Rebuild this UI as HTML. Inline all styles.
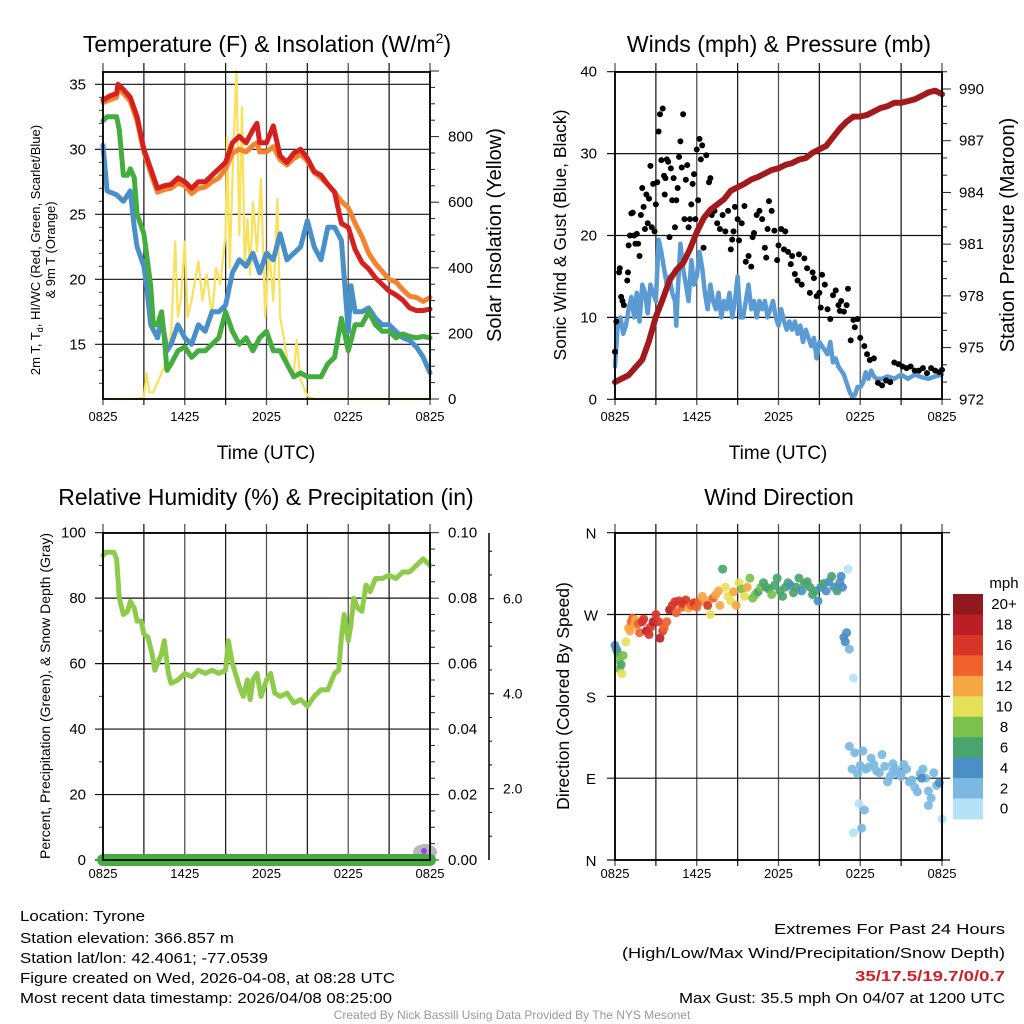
<!DOCTYPE html>
<html><head><meta charset="utf-8"><style>
html,body{margin:0;padding:0;background:#fff}
svg{display:block;font-family:"Liberation Sans",sans-serif}
</style></head><body>
<svg id="fig" width="1024" height="1024" viewBox="0 0 1024 1024" xmlns="http://www.w3.org/2000/svg"></svg>
<script>
// ---------- DATA ----------
const timeTicks = ["0825","1425","2025","0225","0825"];
const tHours = [0,0.5,1,1.1,1.5,2,2.5,3,3.5,4,4.5,5,5.5,6,6.5,7,7.5,8,8.5,9,9.5,10,10.5,11,11.3,11.5,12,12.5,13,13.5,14,14.5,15,15.5,16,16.5,17,17.5,18,18.5,19,19.5,20,20.5,21,21.5,22,22.5,23,23.5,24];
const temp2m = [33.8,34.1,34.3,35,34.6,34,32.5,30,28.5,27,27.2,27.3,27.8,27.5,27,27.5,27.5,28,28.5,29,30.5,31,30.5,31.5,32,30.5,30.5,31.8,29.5,29,29.7,30,29.3,28.3,28,27.3,26.7,24.3,24,22.3,21.3,20.8,20.1,19.6,19.1,18.8,18.4,17.8,17.6,17.6,17.7];
const temp9m = [33.6,33.8,34,34.7,34.3,33.7,32.2,29.8,28.2,26.7,26.9,27,27.4,27.2,26.6,27,27.1,27.5,27.8,28.5,29.7,30,29.8,30.3,30.5,29.8,29.8,30.2,29.2,28.8,29.3,29.6,29.1,28.2,27.8,27.3,26.7,26,25.5,24.3,23.3,22,21.2,20.6,20,19.8,19.2,18.7,18.6,18.3,18.6];
const dewHours = [0,0.3,1,1.2,1.5,1.8,2,2.3,2.5,3,3.5,3.7,4,4.3,4.5,4.7,5,5.5,6,6.5,7,7.5,8,8.5,9,9.5,10,10.5,11,11.5,12,12.5,13,13.5,14,14.5,15,15.5,16,16.5,17,17.5,18,18.5,19,19.5,20,20.5,21,21.5,22,22.5,23,23.5,24];
const dewpoint = [32.2,32.5,32.5,31.5,28,28,28.5,27.8,25,23.5,19.5,16.5,16.5,17.5,15.5,13,13.5,14.5,14.8,14,14.5,14.5,15,15.5,17.5,16,15,15.5,14.5,15.5,16,14.5,14.5,13.5,12.5,12.8,12.5,12.5,12.5,13.5,14,17,14.5,16.5,16.5,17.5,16.5,16,16,15.5,15.8,15.6,15.5,15.6,15.5];
const hiHours = [0,0.2,0.3,1,1.5,2,2.3,2.5,3,3.2,3.5,4,4.3,4.7,5,5.5,6,6.5,7,7.5,8,8.5,9,9.5,10,10.5,11,11.5,12,12.5,13,13.5,14,14.5,15,15.5,16,16.5,17,17.5,18,18.2,18.5,19,19.5,20,20.5,21,21.5,22,22.5,23,23.5,24];
const heatWind = [30.3,28,26.8,26.5,26,26.8,24,22.5,21,19.5,16.5,15.5,17,14.5,15,16.5,15.5,15,16.5,16,17.5,17.5,18,20.5,21.5,21,22,20.5,22,21.5,23.5,21.5,22,22.5,24.5,22.5,21.5,24,24,23,16,19.5,17.5,17.5,17.8,17,16.5,16.5,16,15.5,15.3,14.8,14,12.8];
const solHours = [0,2.5,3,3.2,3.4,3.7,4,4.5,5,5.3,5.5,5.7,6,6.2,6.5,7,7.3,7.6,8,8.3,8.6,9,9.1,9.3,9.6,9.8,10,10.2,10.4,10.6,10.8,11,11.3,11.6,11.9,12.2,12.5,12.8,13,13.3,13.6,14,14.2,14.5,14.8,15,15.5,24];
const solar = [0,0,5,80,20,20,50,100,200,480,250,300,480,250,300,420,300,380,250,400,350,500,800,400,800,1000,500,890,400,550,380,600,450,670,250,450,300,610,250,180,100,80,180,60,30,10,0,0];
const windHours = [0,0.2,0.4,0.6,0.8,1,1.2,1.4,1.6,1.8,2,2.2,2.4,2.6,2.8,3,3.2,3.4,3.6,3.8,4,4.2,4.4,4.5,4.6,4.8,5,5.2,5.4,5.6,5.8,6,6.2,6.4,6.6,6.8,7,7.2,7.4,7.6,7.8,8,8.2,8.4,8.6,8.8,9,9.2,9.4,9.6,9.8,10,10.2,10.4,10.6,10.8,11,11.2,11.4,11.6,11.8,12,12.2,12.4,12.6,12.8,13,13.2,13.4,13.6,13.8,14,14.2,14.4,14.6,14.8,15,15.2,15.4,15.6,15.8,16,16.2,16.4,16.6,16.8,17,17.2,17.4,17.6,17.8,18,18.2,18.4,18.6,18.8,19,19.2,19.6,20,20.5,21,21.5,22,22.5,23,23.5,24];
const windSpd = [4,9,10,8,9,11,12.5,10,13,9.5,14,13,10.5,14,13,12,19.5,18,16,14,15,13,12,9,13,19,16,14,12,17,14,15,18,16,13,11,14,12,11,13,10,12,11,13,10,12,15,10,10,12,14,11,12,10,12,11,12,10,11,12,10,9,11,9.5,8.5,9.5,8.5,9.5,8,9,7,8.5,7.5,6.5,7.5,5,7,6.5,6,5.5,7,4.5,5,4,3.5,3,2,1,0.3,0.5,1.5,1.5,2,3.3,2.5,3.5,2.8,2.5,2.5,2.8,2.5,3,2.5,3,2.7,2.5,2.8,3];
const gustHours = [0,0.1,0.3,0.35,0.45,0.55,0.65,0.9,0.95,1,1.1,1.2,1.3,1.4,1.5,1.6,1.7,1.8,1.9,2,2.1,2.2,2.3,2.4,2.5,2.6,2.7,2.8,2.9,3,3.1,3.2,3.3,3.4,3.5,3.6,3.65,3.7,3.8,3.9,4,4.1,4.2,4.3,4.4,4.5,4.6,4.7,4.8,4.9,5,5.1,5.2,5.3,5.4,5.5,5.6,5.7,5.8,5.9,6,6.1,6.2,6.3,6.4,6.5,6.7,6.9,7.0,7.1,7.3,7.5,7.7,7.9,8.1,8.3,8.5,8.6,8.7,8.8,9.0,9.1,9.3,9.5,9.6,9.8,10.0,10.1,10.2,10.4,10.6,10.8,11.0,11.1,11.2,11.3,11.5,11.7,11.9,12.0,12.2,12.4,12.5,12.7,12.9,13.0,13.2,13.4,13.5,13.7,13.9,14.1,14.3,14.5,14.6,14.8,15.0,15.1,15.2,15.4,15.6,15.8,16.0,16.2,16.4,16.5,16.6,16.8,17.0,17.1,17.3,17.5,17.6,17.8,18.0,18.3,18.5,18.7,19.0,19.3,19.6,19.9,20.2,20.5,20.8,21.1,21.4,21.7,22.0,22.3,22.6,22.9,23.2,23.5,23.8,24];
const gustSpd = [5.8,9.5,15.5,16,12.5,12,11.5,14.5,15.5,18.8,20,22.7,22.8,20,19,20.2,19,17.5,22.5,25.8,23.5,20.8,25,21.5,24.5,28.5,21,26.3,20.5,23.8,26.5,32.7,34.8,29.2,35.5,27.3,25,27,29.3,29,19.8,28.2,24.3,27,21,24.3,25.8,29.6,31.5,28.3,34.8,22,26.8,28.6,21,22,23.8,26.3,27.5,22,30.5,24.3,31.8,29.3,31,18.5,29.8,26.5,27,22.5,23,21.5,20.8,22.5,20.5,23,18.3,19.5,20.5,23.5,22,19.4,21.5,23.6,16.8,17.5,16.2,19.8,20.3,22.5,23,22,18.5,17.3,20.8,24.2,23,20.6,17,18.8,20.8,18.3,20.5,18,16.5,17.5,15.3,14.5,17.7,14,17.2,16,13,15.5,14.8,12.6,13,11.2,15.2,14,11,9.8,12.7,13.3,11.5,10.8,12,10.7,11.5,13.5,7.2,9.7,8.8,9.8,7.5,6.5,5.5,4.8,5,2,1.7,2.3,2.1,4.5,4.3,4,3.8,4,3.5,3.5,3.8,3.2,3.8,3.5,3.3,3.6,3.4,3.7,3.3,3.5,3.6,3.8,4.5];
const presHours = [0,1,2,2.5,3,3.5,4,4.5,5,5.5,6,6.5,7,7.5,8,8.5,9,9.5,10,10.5,11,11.5,12,12.5,13,13.5,14,14.5,15,15.5,16,16.5,17,17.5,18,18.5,19,19.5,20,20.5,21,21.5,22,22.5,23,23.5,24];
const pressure = [973.0,973.4,974.3,975.4,976.8,977.8,978.9,979.5,979.9,980.7,981.7,982.5,983.0,983.3,983.6,984.1,984.3,984.5,984.75,984.9,985.1,985.3,985.4,985.6,985.7,985.9,986.0,986.3,986.5,986.7,987.2,987.7,988.1,988.4,988.4,988.5,988.7,988.9,989.0,989.2,989.2,989.3,989.4,989.6,989.8,989.9,989.7];
const rhHours = [0,0.2,0.8,1,1.2,1.5,1.8,2,2.3,2.5,2.8,3,3.3,3.6,3.8,4,4.3,4.5,4.8,5,5.5,6,6.5,7,7.5,8,8.5,9,9.2,9.5,9.8,10,10.3,10.6,10.8,11,11.3,11.6,12,12.3,12.6,13,13.5,14,14.5,15,15.5,16,16.5,17,17.3,17.5,17.7,18,18.2,18.4,18.7,19,19.3,19.6,20,20.5,21,21.5,22,22.5,23,23.5,24];
const relHum = [93,94,94,92,80,75,76,79,77,73,73,69,68,63,58,60,63,67,57,54,55,57,56,58,57,58,57,58,67,60,56,53,50,55,49,55,57,50,55,57,51,50,51,48,49,47,50,52,52,57,58,68,75,67,72,80,77,76,84,82,86,86,87,86,88,88,90,92,90];
const precipHours = [0,24];
const precip = [0,0];
const dirHours = [0,0.1,0.2,0.3,0.35,0.45,0.5,0.6,0.8,1.0,1.1,1.2,1.3,1.4,1.5,1.7,1.8,2.0,2.1,2.3,2.5,2.6,2.8,3.0,3.2,3.3,3.5,3.6,3.8,4.0,4.2,4.4,4.5,4.7,4.9,5.0,5.2,5.4,5.6,5.8,6.0,6.2,6.4,6.6,6.8,7.0,7.2,7.4,7.6,7.7,7.9,8.1,8.3,8.5,8.7,8.9,9.1,9.3,9.5,9.7,9.9,10.1,10.3,10.5,10.7,10.9,11.1,11.3,11.5,11.7,11.9,12.1,12.3,12.5,12.7,12.9,13.1,13.3,13.5,13.7,13.9,14.1,14.3,14.5,14.7,14.9,15.1,15.3,15.5,15.7,15.9,16.1,16.3,16.5,16.6,16.7,16.8,16.9,17.0,17.2,17.5,17.1,17.2,17.4,17.6,17.8,18.0,18.2,18.4,18.6,18.8,19.0,19.2,19.4,19.6,19.8,20.0,20.2,20.4,20.6,20.8,21.0,21.2,21.4,21.6,21.8,22.0,22.2,22.4,22.6,22.8,23.0,23.2,23.4,23.6,23.8,24.0,17.5,17.9,18.1,18.3,20.4,21.0,22.5,23.0,23.8];
const dirDeg = [236,232,228,220,210,215,205,225,240,255,252,262,266,258,264,260,250,262,265,252,248,256,262,270,262,244,252,255,262,275,280,284,272,285,278,282,286,277,280,283,278,284,290,286,280,270,288,292,296,280,320,300,290,285,295,280,305,298,290,300,310,288,292,295,300,305,300,298,292,302,310,296,290,300,305,302,294,300,310,296,304,306,300,292,296,285,300,304,296,306,312,300,296,305,312,300,245,240,250,232,200,320,125,100,118,95,104,120,100,102,112,105,98,96,116,103,86,92,106,100,95,92,105,100,86,88,80,75,95,100,90,76,68,96,82,85,45,30,62,35,55,98,95,90,60];
const dirSpd = [5,4,6,9,8,7,10,9,10,13,12,14,14,12,13,14,15,16,17,18,16,17,18,17,16,19,16,14,15,18,17,16,14,16,15,17,16,13,14,16,15,14,13,12,16,11,14,13,12,12,7,11,10,10,12,12,11,9,10,12,9,9,8,7,8,7,7,6,9,7,6,7,6,6,6,5,6,7,6,5,6,7,6,7,6,5,5,6,4,5,6,5,6,5,4,5,4,4,4,3,1,1,3,2,2,3,3,2,2,3,2,3,2,3,2,2,3,2,2,3,3,2,2,3,2,2,3,2,2,3,2,2,3,2,2,4,1,1,1,2,2,3,2,4,3];
const speedBinLabels = ["20+","18","16","14","12","10","8","6","4","2","0"];
const speedBinColors = ["#8f191c","#b91f25","#d8352a","#ef622c","#f6a744","#e6df5a","#7bc14b","#49a56e","#4a8fc5","#7bb8e2","#b5e2f6"];

// ---------- HELPERS ----------
const NS="http://www.w3.org/2000/svg";
const svg=document.getElementById('fig');
function el(tag,attrs,parent,text){const e=document.createElementNS(NS,tag);for(const k in attrs)e.setAttribute(k,attrs[k]);if(text!==undefined)e.textContent=text;(parent||svg).appendChild(e);return e;}
function group(name){const g=el('g',{});


return g;}
function lin(d0,d1,r0,r1){return v=>r0+(v-d0)*(r1-r0)/(d1-d0);}
function linePath(xs,ys,xf,yf){const n=Math.min(xs.length,ys.length);let d='';for(let i=0;i<n;i++){d+=(i?'L':'M')+xf(xs[i]).toFixed(1)+','+yf(ys[i]).toFixed(1);}return d;}

function timeAxis(g,x0,x1,yTop,yBot,labelY){
  const xf=lin(0,24,x0,x1);
  for(let i=0;i<=8;i++){
    const x=xf(i*3);
    const ln=el('line',{x1:x,x2:x,y1:yTop-9,y2:yBot+6,stroke:(i%2?'#222':'#555'),'stroke-width':1.3},g);
    
    
  }
  timeTicks.forEach((t,i)=>{
    const tx=el('text',{x:xf(i*6),y:labelY,'font-size':13,'text-anchor':'middle'},g,t);
    
    
  });
  return xf;
}
function frame(g,x0,x1,y0,y1){const r=el('rect',{x:x0,y:y0,width:x1-x0,height:y1-y0,fill:'none',stroke:'#000','stroke-width':1.8},g);

}
function hgrid(g,y,x0,x1,lbl,lx){const l=el('line',{x1:x0-8,x2:x1,y1:y,y2:y,stroke:'#111','stroke-width':1.2},g);


if(lbl!==undefined){const t=el('text',{x:lx,y:y+5,'font-size':15,'text-anchor':'end'},g,lbl);

}}
function rtick(g,x,y,len){el('line',{x1:x,x2:x+len,y1:y,y2:y,stroke:'#222','stroke-width':1},g);}
function rlabel(g,x,y,txt,size){const t=el('text',{x:x,y:y+5,'font-size':size||15},g,txt);

}
function vtext(g,x,y,txt,size,name){const t=el('text',{x:x,y:y,'font-size':size,'text-anchor':'middle',transform:`rotate(-90 ${x} ${y})`},g,txt);

return t;}
function title(g,x,y,txt,name){const t=el('text',{x:x,y:y,'font-size':23,'text-anchor':'middle'},g,txt);

return t;}
function drawLine(g,xs,ys,xf,yf,color,w,name){const p=el('path',{d:linePath(xs,ys,xf,yf),fill:'none',stroke:color,'stroke-width':w,'stroke-linejoin':'round','stroke-linecap':'round'},g);

return p;}

// ---------- PANEL 1 ----------
(function(){
  const g=group('temperature-panel');
  const x0=103,x1=430,y0=72,y1=399;
  const yT=lin(15,35,344.3,84.3), yS=lin(0,800,399,136.6);
  const xf=timeAxis(g,x0,x1,y0,y1,421);
  [15,20,25,30,35].forEach(v=>hgrid(g,yT(v),x0,x1,String(v),86));
  for(let s=0;s<=1000;s+=50){rtick(g,x1,yS(s),s%200===0?9:5);}
  [0,200,400,600,800].forEach(s=>rlabel(g,448,yS(s),String(s)));
  for(let v=12;v<=35;v+=1){ if(v%5) el('line',{x1:x0-4,x2:x0,y1:yT(v),y2:yT(v),stroke:'#444'},g);}
  drawLine(g,solHours,solar,xf,yS,'#f9e15c',2.2,'solar-insolation-line');
  drawLine(g,hiHours,heatWind,xf,yT,'#4a90c8',5,'heat-index-windchill-line');
  drawLine(g,dewHours,dewpoint,xf,yT,'#43ad3f',5,'dewpoint-line');
  drawLine(g,tHours,temp9m,xf,yT,'#f3832e',5,'temp-9m-line');
  drawLine(g,tHours,temp2m,xf,yT,'#d6201f',5,'temp-2m-line');
  frame(g,x0,x1,y0,y1);
  const t=title(g,267,52,'Temperature (F) & Insolation (W/m','temperature-title');
  el('tspan',{dy:-9,'font-size':14},t,'2');
  el('tspan',{dy:9},t,')');
  const xl=el('text',{x:266,y:459,'font-size':19,'text-anchor':'middle'},g,'Time (UTC)');
  
  
  const yl=vtext(g,40,250,'',13,'left-y-axis-title');
  yl.textContent='2m T, T';
  el('tspan',{'font-size':9,dy:3},yl,'d');
  el('tspan',{dy:-3},yl,', HI/WC (Red, Green, Scarlet/Blue)');
  vtext(g,55,250,'& 9m T (Orange)',13,'left-y-axis-title-line2');
  vtext(g,501,235,'Solar Insolation (Yellow)',20,'right-y-axis-title');
})();

// ---------- PANEL 2 ----------
(function(){
  const g=group('winds-panel');
  const x0=615,x1=942,y0=72,y1=399;
  const yW=lin(0,40,399.3,71.7), yP=lin(972,990,399.3,89);
  const xf=timeAxis(g,x0,x1,y0,y1,421);
  [0,10,20,30,40].forEach(v=>hgrid(g,yW(v),x0,x1,String(v),597));
  for(let p=972;p<=991;p+=1){rtick(g,x1,yP(p),(p-972)%3===0?9:5);}
  [972,975,978,981,984,987,990].forEach(p=>rlabel(g,959,yP(p),String(p)));
  drawLine(g,windHours,windSpd,xf,yW,'#5a9bd4',4.5,'sonic-wind-line');
  const n=Math.min(gustHours.length,gustSpd.length);
  for(let i=0;i<n;i++){const c=el('circle',{cx:xf(gustHours[i]),cy:yW(gustSpd[i]),r:3,fill:'#000'},g);
  
  }
  drawLine(g,presHours,pressure,xf,yP,'#a31a1d',6,'pressure-line');
  frame(g,x0,x1,y0,y1);
  title(g,779,52,'Winds (mph) & Pressure (mb)','winds-title');
  const xl=el('text',{x:778,y:459,'font-size':19,'text-anchor':'middle'},g,'Time (UTC)');
  
  
  vtext(g,566,235,'Sonic Wind & Gust (Blue, Black)',17.5,'left-y-axis-title');
  vtext(g,1014,235,'Station Pressure (Maroon)',20,'right-y-axis-title');
})();

// ---------- PANEL 3 ----------
(function(){
  const g=group('humidity-panel');
  const x0=103,x1=430,y0=533,y1=860;
  const yR=lin(0,100,860,532.7), yPr=lin(0,0.1,860,532.7), ySn=lin(2,6,788.7,598.7);
  const xf=timeAxis(g,x0,x1,y0,y1,878);
  [0,20,40,60,80,100].forEach(v=>hgrid(g,yR(v),x0,x1,String(v),86));
  for(let v=10;v<100;v+=20) el('line',{x1:x0-4,x2:x0,y1:yR(v),y2:yR(v),stroke:'#444'},g);
  for(let p=0;p<=0.1001;p+=0.005){rtick(g,x1,yPr(p),Math.round(p*1000)%20===0?9:5);}
  ['0.00','0.02','0.04','0.06','0.08','0.10'].forEach((s,i)=>rlabel(g,448,yPr(i*0.02),s));
  const ax=el('line',{x1:489,x2:489,y1:533,y2:860,stroke:'#000','stroke-width':1.5},g);
  
  
  for(let v=1;v<=7;v+=0.5){el('line',{x1:489,x2:489+(v%2===0?5:3),y1:ySn(v),y2:ySn(v),stroke:'#000'},g);}
  ['2.0','4.0','6.0'].forEach((s,i)=>rlabel(g,503,ySn(2+2*i),s,14));
  drawLine(g,rhHours,relHum,xf,yR,'#8fcb4b',5,'relative-humidity-line');
  const sn=el('ellipse',{cx:425,cy:852,rx:12,ry:8,fill:'#b8b8b8'},g);
  
  
  drawLine(g,precipHours,precip,xf,yPr,'#45ad40',12,'precipitation-line');
  const pu=el('circle',{cx:424,cy:851,r:3,fill:'#a13cf0'},g);
  
  
  frame(g,x0,x1,y0,y1);
  title(g,266,505,'Relative Humidity (%) & Precipitation (in)','humidity-title');
  vtext(g,50,696,'Percent, Precipitation (Green), & Snow Depth (Gray)',14,'left-y-axis-title');
})();

// ---------- PANEL 4 ----------
(function(){
  const g=group('wind-direction-panel');
  const x0=615,x1=942,y0=533,y1=860;
  const yD=lin(0,360,860,532.7);
  const xf=timeAxis(g,x0,x1,y0,y1,878);
  ['N','E','S','W','N'].forEach((l,i)=>{const y=yD(i*90);
    const ln=el('line',{x1:x0-8,x2:x1+8,y1:y,y2:y,stroke:'#111','stroke-width':1.2},g);
    
    
    const t=el('text',{x:591,y:y+6,'font-size':15,'text-anchor':'middle'},g,l);
    
    });
  const n=Math.min(dirHours.length,dirDeg.length,dirSpd.length);
  for(let i=0;i<n;i++){const b=Math.min(10,Math.floor(dirSpd[i]/2));
    const c=el('circle',{cx:xf(dirHours[i]),cy:yD(dirDeg[i]),r:4.5,fill:speedBinColors[10-b],'fill-opacity':0.92},g);
    
    }
  frame(g,x0,x1,y0,y1);
  title(g,779,505,'Wind Direction','wind-direction-title');
  vtext(g,569,696,'Direction (Colored By Speed)',17.5,'left-y-axis-title');
  const lg=el('g',{},g);
  
  
  const mt=el('text',{x:1004,y:588,'font-size':15,'text-anchor':'middle'},lg,'mph');
  
  
  const bh=20.45;
  speedBinLabels.forEach((l,i)=>{
    const r=el('rect',{x:953,y:594+i*bh,width:30,height:bh+0.5,fill:speedBinColors[i]},lg);
    
    
    const t=el('text',{x:1004,y:594+i*bh+bh/2+5,'font-size':15,'text-anchor':'middle'},lg,l);
    
    });
})();

// ---------- FOOTER ----------
(function(){
  const g=group('footer-info');
  const left=[["Location: Tyrone",921,125],["Station elevation: 366.857 m",943,214],["Station lat/lon: 42.4061; -77.0539",963,248],["Figure created on Wed, 2026-04-08, at 08:28 UTC",983,375],["Most recent data timestamp: 2026/04/08 08:25:00",1003,372]];
  left.forEach(r=>{const t=el('text',{x:20,y:r[1],'font-size':15,textLength:r[2],lengthAdjust:'spacingAndGlyphs'},g,r[0]);
  
  });
  const right=[["Extremes For Past 24 Hours",934,'#000','normal',231],["(High/Low/Max Wind/Precipitation/Snow Depth)",958,'#000','normal',383],["35/17.5/19.7/0/0.7",981,'#d01f25','bold',150],["Max Gust: 35.5 mph On 04/07 at 1200 UTC",1003,'#000','normal',326]];
  right.forEach(r=>{const t=el('text',{x:1005-r[4],y:r[1],'font-size':15,fill:r[2],'font-weight':r[3],textLength:r[4],lengthAdjust:'spacingAndGlyphs'},g,r[0]);
  
  });
  const c=el('text',{x:512,y:1019,'font-size':12,'text-anchor':'middle',fill:'#999'},g,'Created By Nick Bassill Using Data Provided By The NYS Mesonet');
  
  
})();
</script>
</body></html>
